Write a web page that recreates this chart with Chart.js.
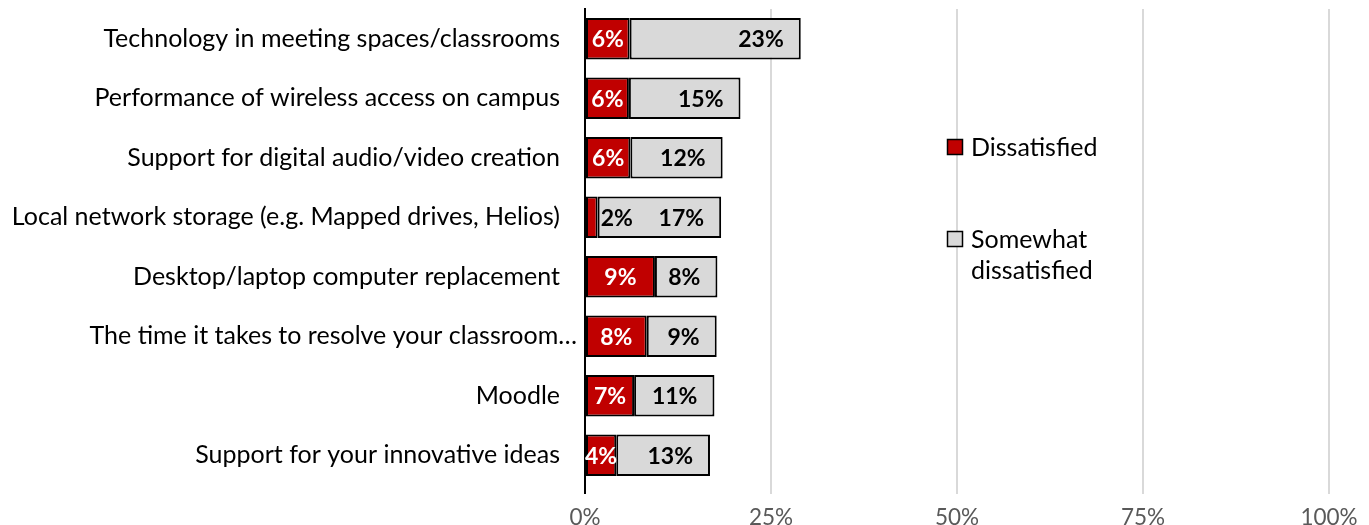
<!DOCTYPE html>
<html>
<head>
<meta charset="utf-8">
<script src="https://cdn.jsdelivr.net/npm/chart.js@4.4.1/dist/chart.umd.min.js"></script>
<style>
html,body{margin:0;padding:0;background:#fff;}
#wrap{width:1369px;height:525px;position:relative;}
</style>
</head>
<body>
<div id="wrap"><canvas id="c" width="1369" height="525"></canvas></div>
<script>
const categories = [
  "Technology in meeting spaces/classrooms",
  "Performance of wireless access on campus",
  "Support for digital audio/video creation",
  "Local network storage (e.g. Mapped drives, Helios)",
  "Desktop/laptop computer replacement",
  "The time it takes to resolve your classroom\u2026",
  "Moodle",
  "Support for your innovative ideas"
];
const dissatisfied = [6.0, 5.9, 6.1, 1.7, 9.4, 8.3, 6.6, 4.2];
const somewhatDissatisfied = [23.0, 15.0, 12.4, 16.6, 8.4, 9.4, 10.8, 12.6];
const dissatisfiedLabels = ["6%", "6%", "6%", "2%", "9%", "8%", "7%", "4%"];
const somewhatLabels = ["23%", "15%", "12%", "17%", "8%", "9%", "11%", "13%"];
const seriesNames = ["Dissatisfied", "Somewhat dissatisfied"];
const xTicks = [0, 25, 50, 75, 100];
const truncatedIndex = 5;

const FONT = "Lato";
const RED = "#C00000";
const GRAY = "#D9D9D9";

const labelPlugin = {
  id: "barLabels",
  afterDatasetsDraw(chart) {
    const ctx = chart.ctx;
    ctx.save();
    ctx.font = "bold 23px " + FONT;
    ctx.textBaseline = "middle";
    const m0 = chart.getDatasetMeta(0);
    const m1 = chart.getDatasetMeta(1);
    m0.data.forEach((bar, i) => {
      const txt = dissatisfiedLabels[i];
      const w = ctx.measureText(txt).width;
      const segW = Math.abs(bar.x - bar.base);
      if (segW < w * 0.6) {
        ctx.fillStyle = "#000";
        ctx.textAlign = "left";
        ctx.fillText(txt, bar.x + 3, bar.y + 1);
      } else {
        ctx.fillStyle = "#fff";
        ctx.textAlign = "center";
        ctx.fillText(txt, (bar.x + bar.base) / 2, bar.y + 1);
      }
    });
    m1.data.forEach((bar, i) => {
      ctx.fillStyle = "#000";
      ctx.textAlign = "right";
      ctx.fillText(somewhatLabels[i], bar.x - 17, bar.y + 1);
    });
    // truncated category label overflows toward the axis, as in the source
    const ys = chart.scales.y;
    ctx.font = "25px " + FONT;
    ctx.fillStyle = "#000";
    ctx.textAlign = "right";
    ctx.fillText(categories[truncatedIndex], ys.right - 8, ys.getPixelForValue(truncatedIndex));
    ctx.restore();
  }
};

const legendPlugin = {
  id: "customLegend",
  afterDraw(chart) {
    const ctx = chart.ctx;
    ctx.save();
    ctx.font = "25px " + FONT;
    ctx.textBaseline = "middle";
    ctx.textAlign = "left";
    const items = [
      {color: RED, lines: [seriesNames[0]], y: 147},
      {color: GRAY, lines: ["Somewhat", "dissatisfied"], y: 239}
    ];
    items.forEach(it => {
      ctx.fillStyle = it.color;
      ctx.fillRect(947, it.y - 8, 16, 16);
      ctx.strokeStyle = "#000";
      ctx.lineWidth = 1.5;
      ctx.strokeRect(947.5, it.y - 7.5, 15, 15);
      ctx.fillStyle = "#000";
      it.lines.forEach((ln, k) => {
        ctx.fillText(ln, 971, it.y + 1 + k * 31);
      });
    });
    ctx.restore();
  }
};

new Chart(document.getElementById("c"), {
  type: "bar",
  data: {
    labels: categories,
    datasets: [
      {label: seriesNames[0], data: dissatisfied, backgroundColor: RED, borderColor: "#000", borderWidth: 2, borderSkipped: false},
      {label: seriesNames[1], data: somewhatDissatisfied, backgroundColor: GRAY, borderColor: "#000", borderWidth: 2, borderSkipped: false}
    ]
  },
  options: {
    indexAxis: "y",
    responsive: false,
    animation: false,
    devicePixelRatio: 1,
    layout: {padding: {top: 9, right: 40, left: 0, bottom: 0}},
    datasets: {bar: {categoryPercentage: 1.0, barPercentage: 0.7}},
    plugins: {legend: {display: false}, tooltip: {enabled: false}},
    scales: {
      x: {
        stacked: true,
        min: 0, max: 100,
        afterBuildTicks: (s) => { s.ticks = xTicks.map(v => ({value: v})); },
        afterFit: (s) => { s.height = 40; },
        grid: {
          color: (c) => c.index === 0 ? "#000" : "#D9D9D9",
          lineWidth: 2,
          drawTicks: true,
          tickLength: 9
        },
        border: {display: false},
        ticks: {
          color: "#595959",
          font: {family: FONT, size: 22.5},
          padding: 10,
          callback: (v) => v + "%"
        }
      },
      y: {
        stacked: true,
        afterFit: (s) => { s.width = 585; s.paddingTop = 0; s.paddingBottom = 0; },
        grid: {display: false, drawTicks: false},
        border: {display: true, color: "#000", width: 2},
        ticks: {
          color: (c) => c.index === truncatedIndex ? "rgba(0,0,0,0)" : "#000",
          font: {family: FONT, size: 25},
          padding: 25,
          autoSkip: false
        }
      }
    }
  },
  plugins: [labelPlugin, legendPlugin]
});
</script>
</body>
</html>
